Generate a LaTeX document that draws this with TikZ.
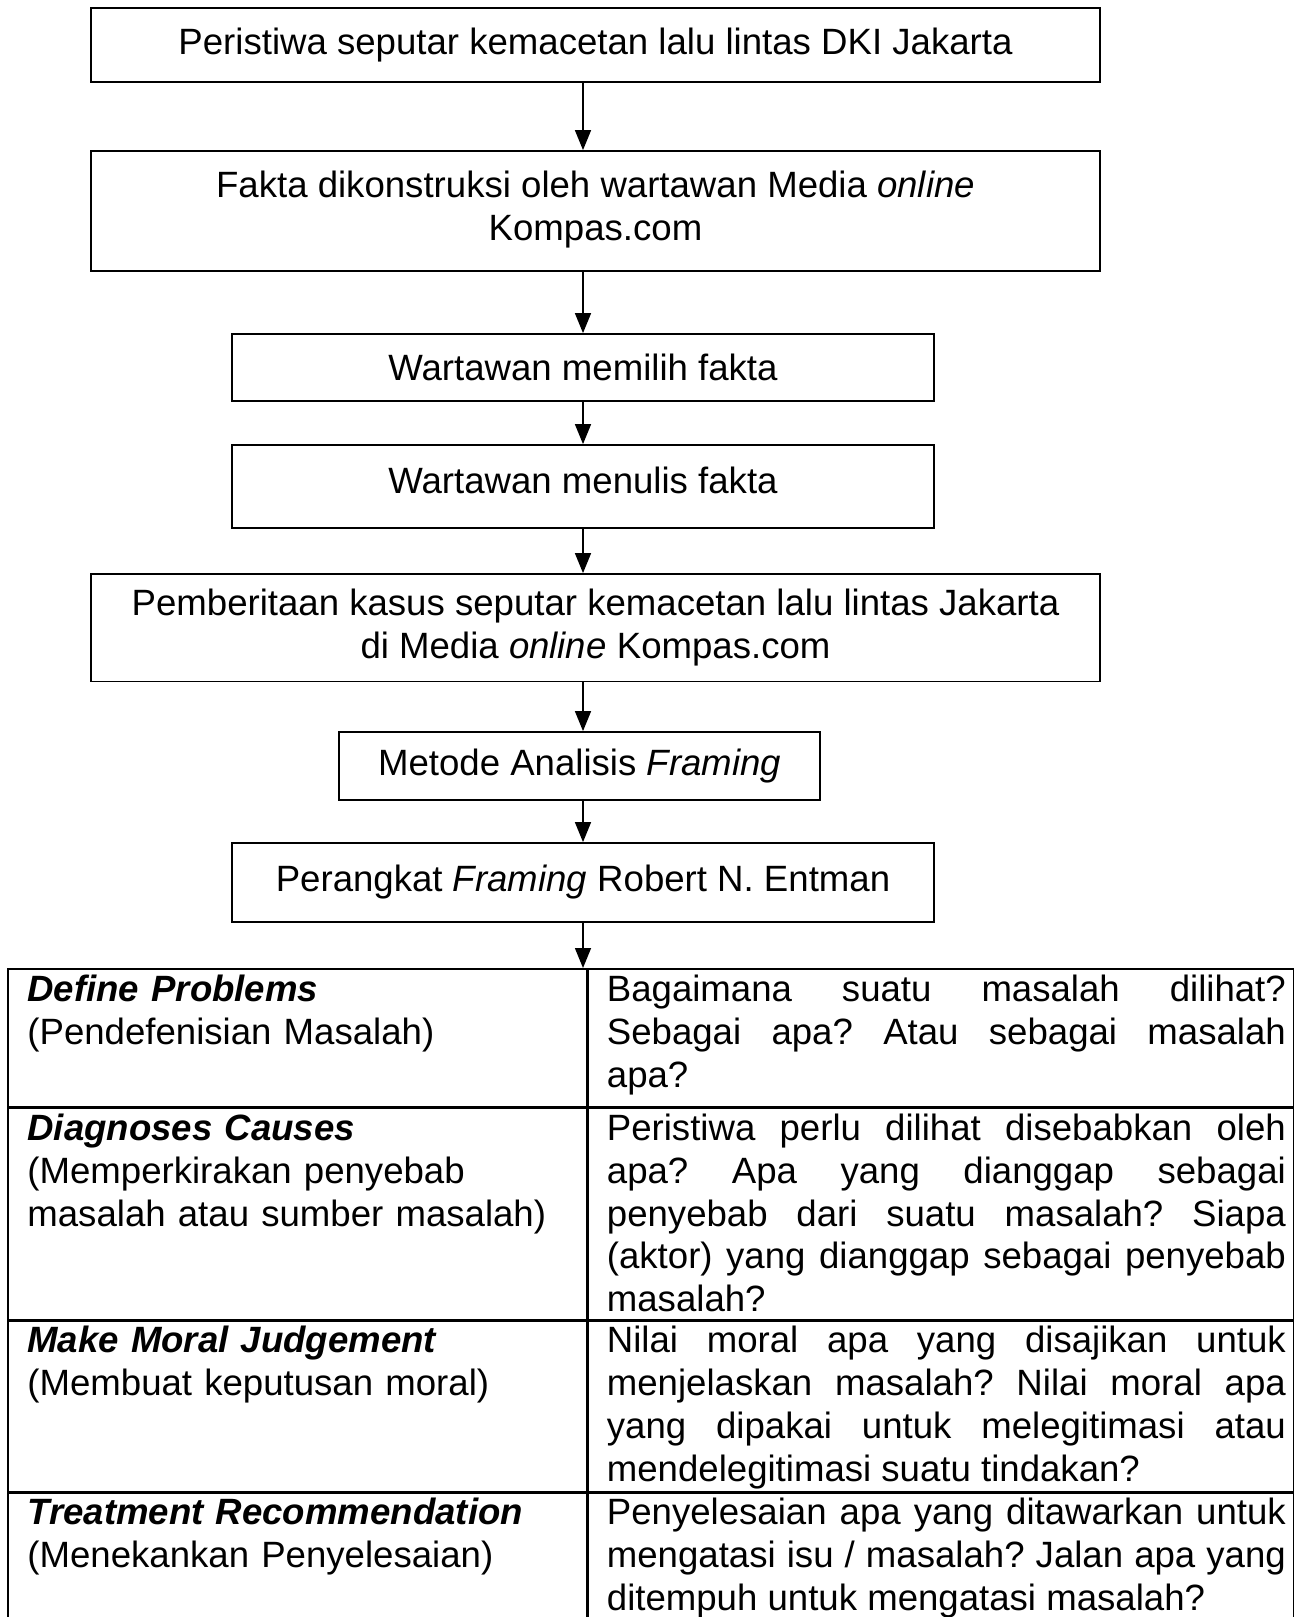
\documentclass[tikz,border=0pt]{standalone}
\usepackage{fontspec}
\setmainfont{Liberation Sans}
\usetikzlibrary{arrows.meta}
\tolerance=10000
\hbadness=10000
\hyphenpenalty=10000
\frenchspacing

\begin{document}
\begin{tikzpicture}[x=0.5pt,y=-0.5pt,
  font=\fontsize{18.3}{21.4}\selectfont,
  box/.style={draw,line width=0.9pt,align=center,inner sep=0pt},
  arr/.style={-{Triangle[length=10pt,width=8pt]},line width=0.75pt},
  cell/.style={draw,line width=0.75pt,anchor=north west,inner sep=0pt},
  lefttext/.style={anchor=north west,inner sep=0pt,text width=275pt,align=left},
  righttext/.style={anchor=north west,inner sep=0pt,text width=339.5pt,align=justify}]
\clip (0,0) rectangle (1296,1617);

\node[box,minimum width=504.5pt,minimum height=37pt] (b1) at (595.5,45) {Peristiwa seputar kemacetan lalu lintas DKI Jakarta};
\node[box,minimum width=504.5pt,minimum height=60pt,text depth=5pt] (b2) at (595.5,211) {Fakta dikonstruksi oleh wartawan Media \textit{online}\\Kompas.com};
\node[box,minimum width=351pt,minimum height=33.5pt] (b3) at (583,367.5) {Wartawan memilih fakta};
\node[box,minimum width=351pt,minimum height=41.5pt,text depth=6pt] (b4) at (583,486.5) {Wartawan menulis fakta};
\node[box,minimum width=504.5pt,minimum height=53.75pt] (b5) at (595.5,627.75) {Pemberitaan kasus seputar kemacetan lalu lintas Jakarta\\di Media \textit{online} Kompas.com};
\node[box,minimum width=240.5pt,minimum height=34pt] (b6) at (579.5,766) {Metode Analisis \textit{Framing}};
\node[box,minimum width=351pt,minimum height=39.5pt] (b7) at (583,882.5) {Perangkat \textit{Framing} Robert N. Entman};

\draw[arr] (b1.south -| b3) -- (b2.north -| b3);
\draw[arr] (b2.south -| b3) -- (b3.north);
\draw[arr] (b3) -- (b4);
\draw[arr] (b4) -- (b5.north -| b4);
\draw[arr] (b5.south -| b4) -- (b6.north -| b4);
\draw[arr] (b6.south -| b4) -- (b7);

% tabel perangkat framing
\node[cell,minimum width=289.5pt,minimum height=69pt] (l1) at (7,968) {};
\node[cell,minimum width=352.5pt,minimum height=69pt] (r1) at (l1.north east) {};
\node[cell,minimum width=289.5pt,minimum height=105.5pt] (l2) at (l1.south west) {};
\node[cell,minimum width=352.5pt,minimum height=105.5pt] (r2) at (l2.north east) {};
\node[cell,minimum width=289.5pt,minimum height=85.5pt] (l3) at (l2.south west) {};
\node[cell,minimum width=352.5pt,minimum height=85.5pt] (r3) at (l3.north east) {};
\node[cell,minimum width=289.5pt,minimum height=76pt] (l4) at (l3.south west) {};
\node[cell,minimum width=352.5pt,minimum height=76pt] (r4) at (l4.north east) {};

\draw[arr] (b7) -- (b7 |- l1.north);

\node[lefttext] (l1t) at ([shift={(20,7)}]l1.north west) {\textbf{\textit{Define Problems}}\\(Pendefenisian Masalah)};
\node[lefttext] (l2t) at ([shift={(20,6)}]l2.north west) {\textbf{\textit{Diagnoses Causes}}\\(Memperkirakan penyebab\\masalah atau sumber masalah)};
\node[lefttext] (l3t) at ([shift={(20,6)}]l3.north west) {\textbf{\textit{Make Moral Judgement}}\\(Membuat keputusan moral)};
\node[lefttext] (l4t) at ([shift={(20,5)}]l4.north west) {\textbf{\textit{Treatment Recommendation}}\\(Menekankan Penyelesaian)};

\node[righttext] (r1t) at ([shift={(19,7)}]r1.north west) {Bagaimana suatu masalah dilihat?\linebreak Sebagai apa? Atau sebagai masalah\linebreak apa?};
\node[righttext] (r2t) at ([shift={(19,6)}]r2.north west) {Peristiwa perlu dilihat disebabkan oleh\linebreak apa? Apa yang dianggap sebagai\linebreak penyebab dari suatu masalah? Siapa\linebreak (aktor) yang dianggap sebagai penyebab\linebreak masalah?};
\node[righttext] (r3t) at ([shift={(19,6)}]r3.north west) {Nilai moral apa yang disajikan untuk\linebreak menjelaskan masalah? Nilai moral apa\linebreak yang dipakai untuk melegitimasi atau\linebreak mendelegitimasi suatu tindakan?};
\node[righttext] (r4t) at ([shift={(19,5)}]r4.north west) {Penyelesaian apa yang ditawarkan untuk\linebreak mengatasi isu / masalah? Jalan apa yang\linebreak ditempuh untuk mengatasi masalah?};
\end{tikzpicture}
\end{document}
